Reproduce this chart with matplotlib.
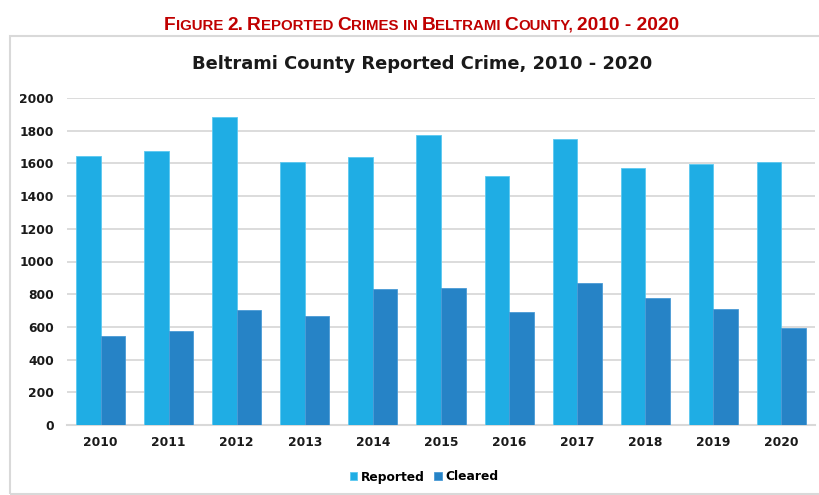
import matplotlib
matplotlib.use("Agg")
import numpy as np
import matplotlib.pyplot as plt
from matplotlib.patches import Rectangle

# Datos del grafico
anios = ["2010", "2011", "2012", "2013", "2014", "2015", "2016", "2017", "2018", "2019", "2020"]
reportados = [1648, 1674, 1882, 1607, 1637, 1772, 1525, 1749, 1570, 1596, 1607]
resueltos = [542, 575, 701, 669, 830, 840, 691, 867, 779, 712, 593]
series = ["Reported", "Cleared"]
colores = ["#1FADE4", "#2683C6"]

titulo_grafico = "Beltrami County Reported Crime, 2010 - 2020"
# titulo en versalitas: (texto, grande?, espacio antes)
titulo_figura = [("F", True, 0), ("IGURE", False, 0), ("2.", True, 1), ("R", True, 1), ("EPORTED", False, 0),
                 ("C", True, 1), ("RIMES", False, 0), ("IN", False, 1), ("B", True, 1), ("ELTRAMI", False, 0),
                 ("C", True, 1), ("OUNTY,", False, 0), ("2010 - 2020", True, 1)]

plt.rcParams["font.family"] = "DejaVu Sans"

fig = plt.figure(figsize=(8.2, 4.95), dpi=100)
ax = fig.add_axes([66.5 / 820, 70 / 495, 749 / 820, 327 / 495])

x = np.arange(len(anios))
ancho = 0.36
ax.bar(x - ancho / 2, reportados, ancho, color=colores[0], edgecolor="#5BC8F0", linewidth=0.6, label=series[0], zorder=3)
ax.bar(x + ancho / 2, resueltos, ancho, color=colores[1], edgecolor="#4A9AD6", linewidth=0.6, label=series[1], zorder=3)

ax.set_xlim(-0.5, len(anios) - 0.5)
ax.set_ylim(0, 2000)
ax.set_yticks(np.arange(0, 2001, 200))
ax.set_xticks(x)
ax.set_xticklabels(anios)
ax.yaxis.grid(True, color="#D9D9D9", linewidth=1.3, zorder=0)
ax.set_axisbelow(True)
for lado in ["top", "right", "left"]:
    ax.spines[lado].set_visible(False)
ax.spines["bottom"].set_color("#D9D9D9")
ax.spines["bottom"].set_linewidth(1.5)
ax.tick_params(axis="both", length=0, labelsize=8.8, colors="#1a1a1a")
ax.tick_params(axis="x", pad=8)
ax.tick_params(axis="y", pad=9)
for t in ax.get_xticklabels() + ax.get_yticklabels():
    t.set_fontweight("bold")

# marco del grafico
fig.patches.append(Rectangle((10 / 820, 1 / 495), 830 / 820, 458 / 495, transform=fig.transFigure,
                             fill=False, edgecolor="#D9D9D9", linewidth=1.5, clip_on=False))

fig.text(422 / 820, 1 - 64 / 495, titulo_grafico, ha="center", va="center", fontsize=12.9,
         fontweight="bold", color="#1a1a1a")

fig.legend(loc="center", bbox_to_anchor=(424 / 820, 1 - 477 / 495), ncol=2, frameon=False,
           handlelength=0.6, handleheight=0.6, handletextpad=0.3, columnspacing=0.8,
           prop={"weight": "bold", "size": 8.8})

# titulo rojo en versalitas
rojo = "#C00000"
piezas = []
for texto, grande, espacio in titulo_figura:
    t = fig.text(0, 1 - 30 / 495, texto, ha="left", va="baseline", fontsize=16.5 if grande else 13,
                 fontweight="bold", color=rojo, family="Liberation Sans")
    piezas.append((t, espacio, grande))


def colocar(escala):
    for t, _, grande in piezas:
        t.set_fontsize((16.5 if grande else 13) * escala)
    fig.canvas.draw()
    r = fig.canvas.get_renderer()
    xpos = 0
    for i, (t, espacio, _) in enumerate(piezas):
        xpos += espacio * 4.2 * escala
        t.set_position((xpos / fig.bbox.width, 1 - 30 / 495))
        xpos = t.get_window_extent(r).x1 + 0.3
    return xpos


total = colocar(1.0)
escala = 516 / total
total = colocar(escala)
inicio = (422 - total / 2) / fig.bbox.width
for t, _, _ in piezas:
    px, py = t.get_position()
    t.set_position((px + inicio, py))

fig.savefig("out.png", dpi=100)
